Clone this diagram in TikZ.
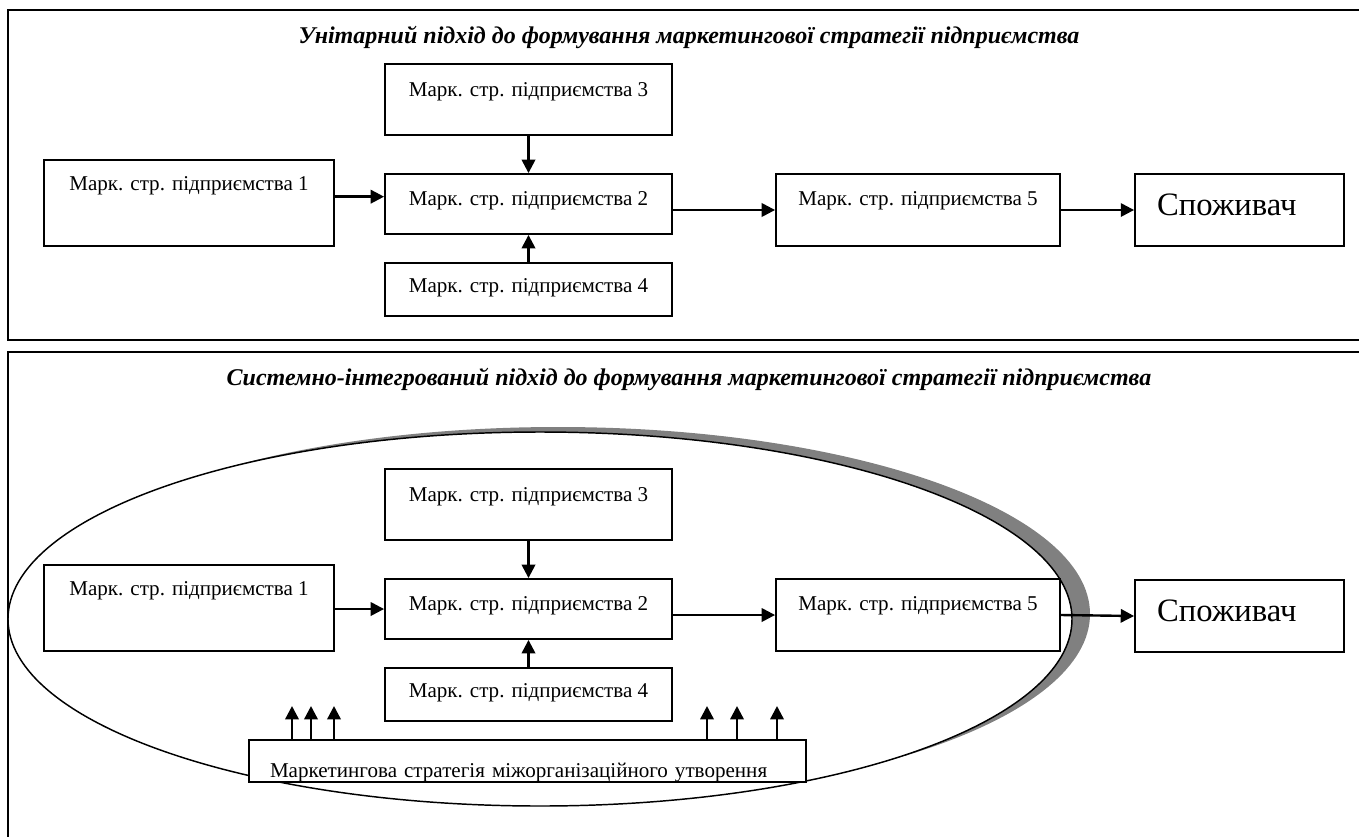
\documentclass[tikz,border=0pt]{standalone}
\usepackage{fontspec}
\setmainfont{Liberation Serif}
\usepackage{xcolor}
\usepackage{tikz}
\usetikzlibrary{arrows.meta}

\begin{document}
\begin{tikzpicture}[x=0.75pt, y=-0.75pt, node distance=303.75pt]
	\definecolor{shadowgray}{RGB}{128,128,128}
	\tikzstyle{box} = [rectangle, draw=black, line width=1.4pt, fill=white, inner xsep=4pt, inner ysep=0pt, minimum width=215.25pt, anchor=base, text centered, font=\fontsize{15.8}{18}\selectfont]
	\tikzstyle{side} = [box, minimum width=217.5pt, text height=22.5pt, text depth=42pt]
	\tikzstyle{upper} = [box, text height=24pt, text depth=29.25pt]
	\tikzstyle{middle} = [box, text height=23.25pt, text depth=21.75pt]
	\tikzstyle{lower} = [box, text height=21.75pt, text depth=18pt]
	\tikzstyle{outlet} = [box, minimum width=213pt, text height=23.25pt, text depth=30.75pt]
	\tikzstyle{consumer} = [box, minimum width=156.75pt, inner xsep=16.5pt, text width=123.75pt, align=left, text height=30.75pt, text depth=23.25pt, font=\fontsize{24.5}{28}\selectfont]
	\tikzstyle{heading} = [anchor=base, inner sep=0pt, font=\fontsize{18}{21}\selectfont\bfseries\itshape]
	\tikzstyle{panel} = [draw=black, line width=1.4pt]
	\tikzstyle{arrow} = [line width=1.8pt, -{Triangle[length=10pt, width=10pt]}]

	\useasboundingbox (0,0) rectangle (1359,836);
	\clip (0,0) rectangle (1359,836);

	% unitary approach
	\draw [panel] (8,10) rectangle (1370,340);
	\node (unititle) [heading] at (689,43) {Унітарний підхід до формування маркетингової стратегії підприємства};

	\node (uni1) [side] at (189,190) {Марк. стр. підприємства 1};
	\node (uni3) [upper] at (528.5,96) {Марк. стр. підприємства 3};
	\node (uni2) [middle] at (528.5,205) {Марк. стр. підприємства 2};
	\node (uni4) [lower] at (528.5,292) {Марк. стр. підприємства 4};
	\node (uni5) [outlet] at (918,205) {Марк. стр. підприємства 5};
	\node (unicons) [consumer] at (1239.5,215) {Споживач};

	\draw [arrow] ([yshift=5.5pt]uni2.west -| uni1.east) -- ([yshift=5.5pt]uni2.west);
	\draw [arrow] (uni3.south) -- (uni2.north);
	\draw [arrow] (uni4.north) -- (uni2.south);
	\draw [arrow] (uni2.east |- uni5.west) -- (uni5.west);
	\draw [arrow] (uni5.east) -- (unicons.west);

	% system-integrated approach
	\draw [panel] (8,352) rectangle (1370,870);
	\node (systitle) [heading] at (689,385) {Системно-інтегрований підхід до формування маркетингової стратегії підприємства};

	\fill [shadowgray] (558,614) ellipse [x radius=532, y radius=187];
	\draw [line width=1.1pt, fill=white] (540,619) ellipse [x radius=532, y radius=187];

	\node (sys1) [side, below of=uni1] {Марк. стр. підприємства 1};
	\node (sys3) [upper, below of=uni3] {Марк. стр. підприємства 3};
	\node (sys2) [middle, below of=uni2] {Марк. стр. підприємства 2};
	\node (sys4) [lower, below of=uni4] {Марк. стр. підприємства 4};
	\node (sys5) [outlet, below of=uni5] {Марк. стр. підприємства 5};
	\node (syscons) [consumer, below of=unicons, yshift=-0.75pt] {Споживач};
	\node (joint) [box, minimum width=417.75pt, inner xsep=15.75pt, text width=386.25pt, align=left, text height=27.75pt, text depth=3.75pt] at (527.5,777) {Маркетингова стратегія міжорганізаційного утворення};

	\draw [arrow] (sys1.east |- sys2.west) -- (sys2.west);
	\draw [arrow] (sys3.south) -- (sys2.north);
	\draw [arrow] (sys4.north) -- (sys2.south);
	\draw [arrow] (sys2.east |- sys5.west) -- (sys5.west);
	\draw [arrow] (sys5.east) -- (syscons.west);

	\foreach \x [count=\i] in {292,311,334,707,737,777} {
		\coordinate (tip\i) at (\x,706);
		\draw [arrow] (joint.north -| tip\i) -- (tip\i);
	}
\end{tikzpicture}
\end{document}
